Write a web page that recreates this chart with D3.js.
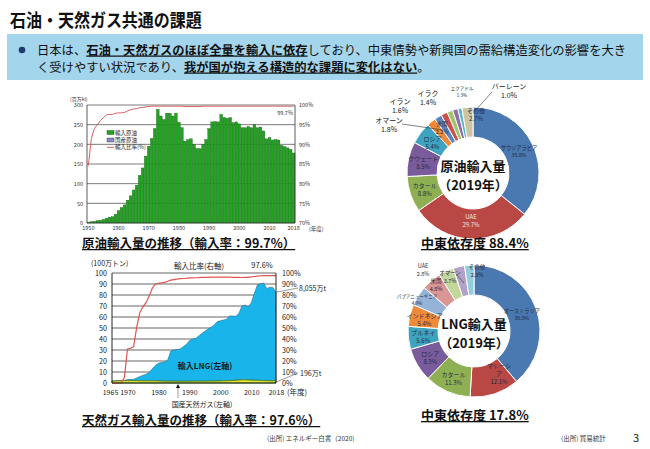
<html>
<script src="https://d3js.org/d3.v7.js"></script>
<body style="margin:0;background:#fff">
<div id="slide"></div>
<script>
// ---- data ----
let oilYears = d3.range(1950, 2019);
let oilImport = [2, 3, 4, 6, 7, 9, 12, 15, 16, 22, 31, 39, 46, 58, 69, 84, 96, 121, 140, 170,
    195, 215, 240, 289, 272, 263, 279, 279, 272, 279, 256, 242, 208, 212, 214, 200, 189, 189, 200, 212,
    240, 257, 258, 257, 276, 268, 266, 268, 255, 257, 252, 242, 242, 245, 242, 251, 242, 244, 234, 214,
    217, 211, 212, 211, 197, 194, 191, 187, 178];
let oilRatio = [84.6, 91.5, 94, 95, 96, 96.8, 97.5, 97.6, 97.6, 97.9, 98, 98, 98.1, 98.5, 98.8, 99, 99.1, 99.3, 99.4, 99.5,
    99.6, 99.7, 99.7, 99.7, 99.7, 99.7, 99.7, 99.7, 99.7, 99.7, 99.7, 99.7, 99.6, 99.6, 99.6, 99.6, 99.6, 99.6, 99.7, 99.7,
    99.7, 99.7, 99.7, 99.7, 99.7, 99.7, 99.7, 99.7, 99.7, 99.7, 99.7, 99.7, 99.7, 99.7, 99.7, 99.7, 99.7, 99.7, 99.7, 99.7,
    99.7, 99.7, 99.7, 99.7, 99.7, 99.7, 99.7, 99.7, 99.7];
let oilXTicks = [1950, 1960, 1970, 1980, 1990, 2000, 2010, 2018];

let gasYears = d3.range(1965, 2019);
let gasDomestic = [1.8, 1.9, 2.0, 2.1, 2.2, 2.2, 2.2, 2.2, 2.2, 2.1, 2.0, 2.0, 2.0, 2.0, 2.0, 1.9, 1.8, 1.7, 1.7, 1.7,
    1.7, 1.6, 1.6, 1.6, 1.6, 1.6, 1.6, 1.7, 1.7, 1.7, 1.7, 1.7, 1.8, 1.8, 1.8, 1.9, 2.0, 2.0, 2.2, 2.3,
    2.5, 2.7, 2.9, 2.9, 2.8, 2.6, 2.6, 2.5, 2.3, 2.2, 2.1, 2.1, 2.0, 1.96];
let gasLNG = [0, 0, 0, 0, 0.2, 1.0, 1.1, 1.2, 2.3, 3.9, 5.0, 6.0, 7.5, 11.0, 14.0, 16.1, 16.8, 17.3, 19.3, 27.3,
    28.3, 28.9, 29.4, 31.4, 33.4, 36.8, 38.4, 38.8, 41.0, 43.3, 45.3, 47.3, 48.8, 50.9, 54.0, 54.8, 55.3, 56.0, 58.8, 58.7,
    57.9, 60.7, 67.1, 68.1, 66.2, 70.4, 79.1, 86.8, 87.9, 88.8, 83.9, 84.9, 84.9, 80.55];
let gasRatio = [0, 0, 0, 0, 5, 31, 31.5, 33, 51, 64, 69.5, 73, 79, 86, 90, 90.5, 91, 91.5, 92.5, 93.5,
    94, 94.5, 94.8, 95, 95.2, 95.5, 95.6, 95.7, 95.8, 96, 96, 96.1, 96.2, 96.2, 96.3, 96.3, 96.3, 96.3, 96.2, 96.1,
    96, 96, 95.9, 96, 96.1, 96.4, 96.8, 97.2, 97.5, 97.6, 97.6, 97.6, 97.6, 97.6];
let gasXTicks = [1965, 1970, 1980, 1990, 2000, 2010, 2018];

let oilCountries = ["サウジアラビア", "UAE", "カタール", "クウェート", "ロシア", "米国", "オマーン", "イラン", "イラク", "エクアドル", "バーレーン", "その他"];
let oilShares = [35.8, 29.7, 8.8, 8.5, 5.4, 2.2, 1.8, 1.6, 1.4, 1.3, 1.0, 2.7];
let oilColors = ["#4a78b0", "#b94845", "#8fb052", "#7a5c9c", "#3ea3bf", "#ee8a3a", "#5b84c0", "#c9514e", "#a5c46a", "#8d6fae", "#5db7cf", "#cdc5a0"];

let lngCountries = ["オーストラリア", "マレーシア", "カタール", "ロシア", "ブルネイ", "インドネシア", "パプアニューギニア", "米国", "オマーン", "UAE", "その他"];
let lngShares = [38.9, 12.1, 11.3, 8.3, 5.6, 5.4, 4.9, 4.8, 3.7, 2.8, 2.3];
let lngColors = ["#4a78b0", "#b94845", "#8fb052", "#7a5c9c", "#3ea3bf", "#ee8a3a", "#95b3d7", "#d99694", "#c3d69b", "#b3a2c7", "#93cddd"];

const JP = "'Noto Sans CJK JP', 'Noto Sans', sans-serif";

let svg = d3.select("#slide").append("svg").attr("width", 650).attr("height", 449)
    .style("font-family", JP);
svg.append("rect").attr("width", 650).attr("height", 449).attr("fill", "#fff");

function txt(g, x, y, s, size, opts) {
    opts = opts || {};
    return g.append("text").attr("x", x).attr("y", y).text(s)
        .attr("font-size", size)
        .attr("font-weight", opts.bold ? "bold" : "normal")
        .attr("text-anchor", opts.anchor || "start")
        .attr("fill", opts.fill || "#222")
        .style("text-decoration", opts.under ? "underline" : "none");
}

// ---- header ----
txt(svg, 10, 27, "石油・天然ガス共通の課題", 16, {bold: true, fill: "#111"})
    .attr("transform", "translate(10,27) scale(1,1.12) translate(-10,-27)");
svg.append("rect").attr("x", 7).attr("y", 34).attr("width", 636).attr("height", 46).attr("fill", "#a3d5ec");
svg.append("circle").attr("cx", 22).attr("cy", 50).attr("r", 3.3).attr("fill", "#1f3a6e");
let l1 = svg.append("text").attr("x", 37).attr("y", 54.5).attr("font-size", 12.3).attr("fill", "#111");
l1.append("tspan").text("日本は、");
l1.append("tspan").text("石油・天然ガスのほぼ全量を輸入に依存").attr("font-weight", "bold").style("text-decoration", "underline");
l1.append("tspan").text("しており、中東情勢や新興国の需給構造変化の影響を大き");
let l2 = svg.append("text").attr("x", 37).attr("y", 71.5).attr("font-size", 12.3).attr("fill", "#111");
l2.append("tspan").text("く受けやすい状況であり、");
l2.append("tspan").text("我が国が抱える構造的な課題に変化はない").attr("font-weight", "bold").style("text-decoration", "underline");
l2.append("tspan").text("。");

// ---- oil import chart ----
let og = svg.append("g");
let ox = d3.scaleBand().domain(oilYears).range([87, 295]).paddingInner(0.12);
let oy = d3.scaleLinear().domain([0, 300]).range([223, 105]);
let oyR = d3.scaleLinear().domain([70, 100]).range([223, 105]);

og.selectAll(".ogrid").data(d3.range(50, 301, 50)).join("line")
    .attr("x1", 87).attr("x2", 295).attr("y1", d => oy(d)).attr("y2", d => oy(d))
    .attr("stroke", "#6b6b6b").attr("stroke-width", 0.9);
og.selectAll(".bar").data(oilYears).join("rect")
    .attr("x", d => ox(d)).attr("width", ox.bandwidth())
    .attr("y", (d, i) => oy(oilImport[i])).attr("height", (d, i) => oy(0) - oy(oilImport[i]))
    .attr("fill", "#22a322").attr("stroke", "#0d560d").attr("stroke-width", 0.35);
og.append("path").datum(oilRatio)
    .attr("d", d3.line().x((d, i) => ox(oilYears[i]) + ox.bandwidth() / 2).y(d => oyR(d)))
    .attr("fill", "none").attr("stroke", "#d66060").attr("stroke-width", 1);
og.append("line").attr("x1", 87).attr("x2", 87).attr("y1", 105).attr("y2", 223).attr("stroke", "#333").attr("stroke-width", 0.8);
og.append("line").attr("x1", 295).attr("x2", 295).attr("y1", 105).attr("y2", 223).attr("stroke", "#333").attr("stroke-width", 0.8);
og.append("line").attr("x1", 87).attr("x2", 295).attr("y1", 223).attr("y2", 223).attr("stroke", "#333").attr("stroke-width", 0.8);

let oyAxis = og.append("g").attr("transform", "translate(87,0)")
    .call(d3.axisLeft(oy).tickValues(d3.range(0, 301, 50)).tickSize(0).tickPadding(4));
let oyRAxis = og.append("g").attr("transform", "translate(295,0)")
    .call(d3.axisRight(oyR).tickValues(d3.range(70, 101, 5)).tickSize(0).tickPadding(4).tickFormat(d => d + "%"));
let oxAxis = og.append("g").attr("transform", "translate(0,223)")
    .call(d3.axisBottom(ox).tickValues(oilXTicks).tickSize(0).tickPadding(3));
[oyAxis, oyRAxis, oxAxis].forEach(a => {
    a.select(".domain").remove();
    a.selectAll("text").attr("font-size", 5.5).attr("fill", "#333").style("font-family", JP);
});
txt(og, 309, 231, "(年度)", 5.5, {fill: "#333"});
txt(og, 70, 101, "(百万kl)", 5, {fill: "#333"});
txt(og, 293, 115, "99.7%", 5.5, {anchor: "end", fill: "#333"});

og.append("rect").attr("x", 107).attr("y", 130.5).attr("width", 7).attr("height", 4).attr("fill", "#22a322").attr("stroke", "#0d560d").attr("stroke-width", 0.4);
og.append("rect").attr("x", 107).attr("y", 138).attr("width", 7).attr("height", 4).attr("fill", "#8888cc").attr("stroke", "#333").attr("stroke-width", 0.4);
og.append("line").attr("x1", 107).attr("x2", 114).attr("y1", 147.3).attr("y2", 147.3).attr("stroke", "#d66060").attr("stroke-width", 1);
txt(og, 115, 134.5, "輸入原油", 5.5, {fill: "#222"});
txt(og, 115, 142, "国産原油", 5.5, {fill: "#222"});
txt(og, 115, 149.3, "輸入比率(%)", 5.5, {fill: "#222"});

txt(svg, 82, 248, "原油輸入量の推移（輸入率：99.7%）", 12.5, {bold: true, under: true, fill: "#111"});

// ---- natural gas chart ----
let gg = svg.append("g");
let gx = d3.scaleLinear().domain([1965, 2018]).range([112, 276]);
let gy = d3.scaleLinear().domain([0, 100]).range([383, 273]);

gg.selectAll(".ggrid").data(d3.range(10, 101, 10)).join("line")
    .attr("x1", 112).attr("x2", 276).attr("y1", d => gy(d)).attr("y2", d => gy(d))
    .attr("stroke", "#555").attr("stroke-width", 0.9);

let stackRows = gasYears.map((y, i) => ({year: y, domestic: gasDomestic[i], lng: gasLNG[i]}));
let stacked = d3.stack().keys(["domestic", "lng"])(stackRows);
let area = d3.area().x(d => gx(d.data.year)).y0(d => gy(d[0])).y1(d => gy(d[1]));
gg.append("path").datum(stacked[1]).attr("d", area)
    .attr("fill", "#19b4ea").attr("stroke", "#2a5a70").attr("stroke-width", 0.5);
gg.append("path").datum(stacked[0]).attr("d", area)
    .attr("fill", "#e8e43a").attr("stroke", "#3d7a1e").attr("stroke-width", 0.9);

gg.append("path").datum(gasRatio)
    .attr("d", d3.line().x((d, i) => gx(gasYears[i])).y(d => gy(d)))
    .attr("fill", "none").attr("stroke", "#e05550").attr("stroke-width", 1.2);

gg.append("line").attr("x1", 112).attr("x2", 112).attr("y1", 273).attr("y2", 383).attr("stroke", "#111").attr("stroke-width", 0.9);
gg.append("line").attr("x1", 276).attr("x2", 276).attr("y1", 273).attr("y2", 383).attr("stroke", "#111").attr("stroke-width", 0.9);
gg.append("line").attr("x1", 112).attr("x2", 276).attr("y1", 383).attr("y2", 383).attr("stroke", "#111").attr("stroke-width", 0.9);

let gyAxis = gg.append("g").attr("transform", "translate(112,0)")
    .call(d3.axisLeft(gy).tickValues(d3.range(0, 101, 10)).tickSize(0).tickPadding(5));
let gyRAxis = gg.append("g").attr("transform", "translate(276,0)")
    .call(d3.axisRight(gy).tickValues(d3.range(0, 101, 10)).tickSize(0).tickPadding(6).tickFormat(d => d + "%"));
let gxAxis = gg.append("g").attr("transform", "translate(0,383)")
    .call(d3.axisBottom(gx).tickValues(gasXTicks).tickFormat(d3.format("d")).tickSize(0).tickPadding(7));
[gyAxis, gyRAxis, gxAxis].forEach(a => {
    a.select(".domain").remove();
    a.selectAll("text").attr("font-size", 7.2).attr("fill", "#222").style("font-family", JP);
});
gxAxis.selectAll("text").attr("font-size", 7);
gxAxis.selectAll("text").filter(d => d === 1965).attr("dx", -2);
txt(gg, 287, 395, "(年度)", 7.5, {fill: "#222"});
txt(gg, 91, 266, "(100万トン)", 7, {fill: "#222"});
txt(gg, 199, 268.5, "輸入比率(右軸)", 7.5, {anchor: "middle", fill: "#222"});
txt(gg, 262, 268, "97.6%", 7.5, {anchor: "middle", fill: "#222"});
txt(gg, 205, 369, "輸入LNG(左軸)", 8, {anchor: "middle", fill: "#1a1a1a", bold: true});
txt(gg, 202, 407, "国産天然ガス(左軸)", 7, {anchor: "middle", fill: "#222"});
gg.append("line").attr("x1", 178).attr("x2", 178).attr("y1", 385).attr("y2", 398).attr("stroke", "#888").attr("stroke-width", 0.8);
gg.append("path").attr("d", "M176,388 L178,384 L180,388 Z").attr("fill", "#111");
gg.append("line").attr("x1", 276).attr("x2", 298).attr("y1", gy(gasLNG[53] + gasDomestic[53])).attr("y2", 288).attr("stroke", "#555").attr("stroke-width", 0.6);
txt(gg, 299, 291, "8,055万t", 7, {fill: "#222"});
gg.append("line").attr("x1", 276).attr("x2", 298).attr("y1", 382).attr("y2", 373).attr("stroke", "#555").attr("stroke-width", 0.6);
txt(gg, 300, 376, "196万t", 7, {fill: "#222"});

txt(svg, 82, 425, "天然ガス輸入量の推移（輸入率：97.6%）", 12.5, {bold: true, under: true, fill: "#111"});

// ---- donuts ----
// labels that wrap inside their slice
let wrapLabels = {"マレーシア": ["マレーシ", "ア"]};

function donut(cx, cy, names, shares, colors, manual) {
    let g = svg.append("g").attr("transform", `translate(${cx},${cy})`);
    let pie = d3.pie().sort(null).value(d => d)(shares);
    let arc = d3.arc().innerRadius(36).outerRadius(66);
    let mid = d3.arc().innerRadius(51).outerRadius(51);
    g.selectAll("path").data(pie).join("path")
        .attr("d", arc).attr("fill", (d, i) => colors[i])
        .attr("stroke", "#fff").attr("stroke-width", 1);
    pie.forEach((d, i) => {
        let m = manual[names[i]];
        let p = m ? [m[0], m[1]] : mid.centroid(d);
        let size = m ? m[2] : (d.value > 20 ? 5.2 : 6);
        let fill = m && m[3] ? m[3] : "#1e2a44";
        let lines = wrapLabels[names[i]] || [names[i]];
        lines.forEach((s, k) => txt(g, p[0], p[1] - 1 + k * (size + 1.5), s, size, {anchor: "middle", fill: fill}));
        txt(g, p[0], p[1] + (lines.length - 1) * (size + 1.5) + size + 1, d.value.toFixed(1) + "%", size, {anchor: "middle", fill: fill});
    });
    return g;
}

let oilLabelPos = {
    "UAE": [-2, 47, 6, "#f4e8e8"],
    "米国": [-31, -46, 5.5],
    "オマーン": [-84, -49, 7, "#222"],
    "イラン": [-73, -68, 7, "#222"],
    "イラク": [-45, -76, 7, "#222"],
    "エクアドル": [-11, -82, 4.5, "#222"],
    "バーレーン": [36, -83, 7, "#222"],
    "その他": [3, -59, 6]
};
let og2 = donut(473, 173, oilCountries, oilShares, oilColors, oilLabelPos);
og2.append("line").attr("x1", -71).attr("y1", -49).attr("x2", -30).attr("y2", -43).attr("stroke", "#333").attr("stroke-width", 0.6);
og2.append("line").attr("x1", 19).attr("y1", -81).attr("x2", 1).attr("y2", -61).attr("stroke", "#333").attr("stroke-width", 0.6);
txt(og2, 0, -2, "原油輸入量", 13, {anchor: "middle", bold: true, fill: "#111"});
txt(og2, 0, 16.5, "（2019年）", 13, {anchor: "middle", bold: true, fill: "#111"});
txt(svg, 421, 248, "中東依存度  88.4%", 13, {bold: true, under: true, fill: "#111"});

let lngLabelPos = {
    "マレーシア": [25, 38, 6],
    "パプアニューギニア": [-57, -32, 4.5],
    "米国": [-38, -47, 5.5],
    "オマーン": [-24, -55, 5.5],
    "UAE": [-51, -62, 5.5, "#333"],
    "その他": [3, -61, 5.5]
};
let lg2 = donut(474, 331, lngCountries, lngShares, lngColors, lngLabelPos);
lg2.append("line").attr("x1", -18).attr("y1", -57).attr("x2", -10).attr("y2", -48).attr("stroke", "#333").attr("stroke-width", 0.6);
txt(lg2, 0, -2, "LNG輸入量", 13, {anchor: "middle", bold: true, fill: "#111"});
txt(lg2, 0, 16.5, "（2019年）", 13, {anchor: "middle", bold: true, fill: "#111"});
txt(svg, 421, 420, "中東依存度  17.8%", 13, {bold: true, under: true, fill: "#111"});

// ---- footer ----
txt(svg, 267, 441, "(出所) エネルギー白書（2020)", 6.5, {fill: "#333"});
txt(svg, 561, 441, "(出所) 貿易統計", 6.5, {fill: "#333"});
txt(svg, 633, 442, "3", 11, {fill: "#222"});
</script>
</body>
</html>
